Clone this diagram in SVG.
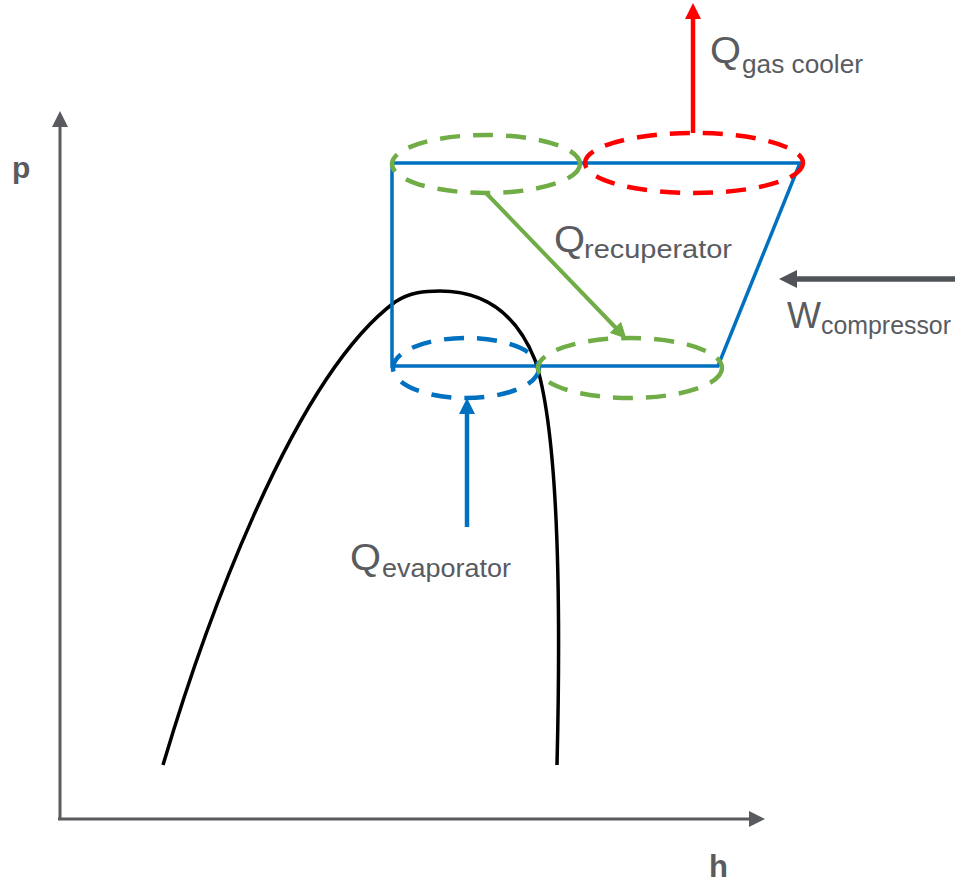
<svg xmlns="http://www.w3.org/2000/svg" width="961" height="883" viewBox="0 0 961 883">
<style>
.axis{stroke:#595b5f;stroke-width:3;fill:none}
.cyc{stroke:#0070c0;stroke-width:3.5;fill:none}
.dash{fill:none;stroke-width:4.5;stroke-dasharray:20 13}
.lbl{font-family:"Liberation Sans","DejaVu Sans",sans-serif;fill:#595b5f}
.ax{font-family:"Liberation Sans","DejaVu Sans",sans-serif;font-weight:bold;fill:#595b5f}
</style>
<defs>
<marker id="hGray" viewBox="0 0 16 16" refX="1" refY="8" markerWidth="16" markerHeight="16" markerUnits="userSpaceOnUse" orient="auto"><path d="M0,0 L16,8 L0,16 Z" fill="#595b5f"/></marker>
<marker id="hW" viewBox="0 0 18 18" refX="1" refY="9" markerWidth="18" markerHeight="18" markerUnits="userSpaceOnUse" orient="auto"><path d="M0,0 L18,9 L0,18 Z" fill="#505458"/></marker>
<marker id="hRed" viewBox="0 0 16 16" refX="1" refY="8" markerWidth="16" markerHeight="16" markerUnits="userSpaceOnUse" orient="auto"><path d="M0,0 L16,8 L0,16 Z" fill="#ff0000"/></marker>
<marker id="hBlue" viewBox="0 0 16 16" refX="1" refY="8" markerWidth="16" markerHeight="16" markerUnits="userSpaceOnUse" orient="auto"><path d="M0,0 L16,8 L0,16 Z" fill="#0070c0"/></marker>
<marker id="hGreen" viewBox="0 0 16 16" refX="1" refY="8" markerWidth="16" markerHeight="16" markerUnits="userSpaceOnUse" orient="auto"><path d="M0,0 L16,8 L0,16 Z" fill="#70ad47"/></marker>
</defs>
<rect width="961" height="883" fill="#ffffff"/>
<g id="axes">
<path class="axis" d="M60,820 V126" marker-end="url(#hGray)"/>
<path class="axis" d="M58,819 H750" marker-end="url(#hGray)"/>
<text class="ax" x="12" y="178" font-size="30">p</text>
<text class="ax" x="709" y="877" font-size="31">h</text>
</g>
<g id="dome">
<path d="M163,765 C200,640 290,380 395,302 C410,292 425,291 440,291 C480,291 515,310 535,360 C555,420 562,560 557,765" fill="none" stroke="#000" stroke-width="3.5"/>
</g>
<g id="cycle">
<path class="cyc" d="M392,366 V163 H800 L718,366 Z"/>
</g>
<g id="recuperator-hot">
<ellipse class="dash" cx="486" cy="164" rx="94" ry="29" stroke="#70ad47"/>
</g>
<g id="gas-cooler">
<ellipse class="dash" cx="694" cy="163" rx="109" ry="30" stroke="#ff0000"/>
</g>
<g id="evaporator">
<ellipse class="dash" cx="466" cy="368" rx="73" ry="30" stroke="#0070c0"/>
</g>
<g id="recuperator-cold">
<ellipse class="dash" cx="630" cy="368" rx="92" ry="30" stroke="#70ad47"/>
</g>
<g id="connectors">
<path d="M693,133 V18" stroke="#ff0000" stroke-width="4.5" fill="none" marker-end="url(#hRed)"/>
<path d="M486,193 L616,328" stroke="#70ad47" stroke-width="4" fill="none" marker-end="url(#hGreen)"/>
<path d="M467,527 V413" stroke="#0070c0" stroke-width="4.5" fill="none" marker-end="url(#hBlue)"/>
<path d="M955,279 H796" stroke="#505458" stroke-width="5.5" fill="none" marker-end="url(#hW)"/>
</g>
<g id="labels">
<text class="lbl" x="710" y="63" font-size="36" textLength="31" lengthAdjust="spacingAndGlyphs">Q</text>
<text class="lbl" x="742" y="73" font-size="25" textLength="121" lengthAdjust="spacingAndGlyphs">gas cooler</text>
<text class="lbl" x="554" y="252" font-size="36" textLength="31" lengthAdjust="spacingAndGlyphs">Q</text>
<text class="lbl" x="584" y="258" font-size="25" textLength="148" lengthAdjust="spacingAndGlyphs">recuperator</text>
<text class="lbl" x="787" y="328" font-size="36" textLength="34" lengthAdjust="spacingAndGlyphs">W</text>
<text class="lbl" x="821" y="334" font-size="25" textLength="130" lengthAdjust="spacingAndGlyphs">compressor</text>
<text class="lbl" x="350" y="570" font-size="36" textLength="31" lengthAdjust="spacingAndGlyphs">Q</text>
<text class="lbl" x="382" y="577" font-size="25" textLength="129" lengthAdjust="spacingAndGlyphs">evaporator</text>
</g>
</svg>
